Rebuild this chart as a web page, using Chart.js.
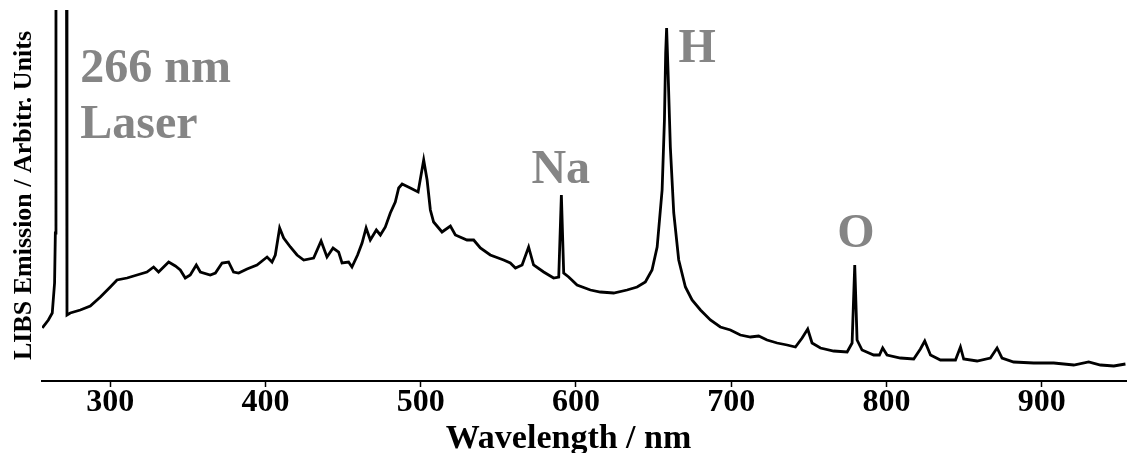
<!DOCTYPE html>
<html lang="en">
<head>
    <meta charset="UTF-8">
    <title>LIBS Spectrum</title>
    <script src="https://cdn.jsdelivr.net/npm/chart.js"></script>
    <style>
        body {
            margin: 0;
            background: white;
        }
        .wrap {
            width: 1127px;
            height: 453px;
            position: relative;
        }
    </style>
</head>
<body>
    <div class="wrap">
        <canvas id="spectrum"></canvas>
    </div>

    <script>
        // wavelength (nm) and emission (arbitrary units)
        const wavelength = [
            256.2, 260.1, 262.6, 264.1, 264.6, 265.0, 271.6, 272.1, 274.2, 280.7,
            287.1, 293.6, 300.0, 304.3, 310.8, 317.2, 323.6, 327.9, 331.1, 337.6,
            341.9, 345.1, 348.3, 351.5, 355.4, 358.0, 364.4, 367.7, 372.0, 376.2,
            379.4, 382.7, 388.1, 394.5, 401.0, 404.2, 406.3, 409.1, 411.7, 416.0,
            420.3, 424.6, 431.0, 435.8, 439.6, 443.5, 447.1, 449.3, 453.5, 455.7,
            459.3, 462.2, 464.8, 467.5, 471.4, 474.0, 477.2, 480.4, 483.6, 485.8,
            488.0, 493.3, 498.3, 501.9, 504.1, 506.2, 508.3, 513.7, 519.1, 522.3,
            529.8, 534.1, 538.4, 544.8, 553.4, 557.7, 561.0, 565.3, 569.5, 572.7,
            579.2, 585.6, 588.9, 590.6, 592.1, 595.3, 600.7, 609.3, 615.7, 624.3,
            632.9, 639.4, 644.7, 649.0, 652.3, 655.5, 657.0, 657.8, 658.4, 659.3,
            660.8, 663.0, 666.2, 670.5, 674.8, 680.2, 686.6, 693.0, 699.5, 705.9,
            712.4, 717.7, 723.1, 729.6, 736.0, 741.4, 745.7, 749.3, 752.1, 757.5,
            766.0, 774.7, 777.9, 779.6, 781.1, 784.3, 791.8, 795.5, 797.6, 800.4,
            809.0, 817.6, 821.9, 824.7, 828.4, 834.8, 844.5, 847.7, 849.8, 858.4,
            867.0, 871.3, 874.5, 882.0, 894.9, 907.8, 920.7, 930.3, 937.9, 946.5,
            954.0
        ];
        const intensity = [
            53, 61, 68, 98, 148, 600, 600, 66, 68, 71,
            75, 84, 94, 101, 103, 106, 109, 114, 109, 119,
            115, 111, 103, 106, 116, 109, 106, 108, 118, 119,
            109, 108, 112, 116, 124, 119, 126, 153, 143, 134,
            126, 121, 123, 140, 124, 133, 129, 118, 119, 114,
            126, 138, 153, 141, 151, 146, 154, 168, 179, 193,
            197, 193, 189, 221, 201, 171, 159, 149, 155, 146,
            141, 141, 133, 126, 121, 118, 113, 116, 134, 116,
            109, 103, 104, 186, 108, 104, 96, 91, 89, 88,
            91, 94, 99, 111, 134, 191, 261, 328, 353, 311,
            234, 168, 121, 94, 81, 71, 61, 54, 51, 46,
            44, 45, 41, 38, 36, 34, 43, 52, 38, 33,
            30, 29, 38, 116, 41, 31, 26, 26, 33, 26,
            23, 22, 32, 40, 26, 21, 21, 34, 22, 20,
            23, 33, 23, 19, 18, 18, 16, 19, 16, 15,
            17
        ];
        const xTicks = [300, 400, 500, 600, 700, 800, 900];

        // peak labels, anchored in data units (left edge, baseline)
        const peakLabels = ["266 nm", "Laser", "Na", "H", "O"];
        const labelX = [280.7, 280.7, 571.3, 666.0, 768.4];
        const labelY = [299, 243, 198, 319, 134];

        const xTitle = "Wavelength / nm";
        const serif = "'Liberation Serif', 'Times New Roman', serif";

        const labelPlugin = {
            id: "peakLabels",
            afterDraw(chart) {
                const ctx = chart.ctx;
                const xs = chart.scales.x;
                const ys = chart.scales.y;
                ctx.save();
                ctx.font = "bold 48px " + serif;
                ctx.fillStyle = "#858585";
                ctx.textAlign = "left";
                ctx.textBaseline = "alphabetic";
                peakLabels.forEach((t, i) => {
                    ctx.fillText(t, xs.getPixelForValue(labelX[i]), ys.getPixelForValue(labelY[i]));
                });
                // x axis title sits a bit left of the plot centre in the original
                ctx.font = "bold 34px " + serif;
                ctx.fillStyle = "#000";
                ctx.textAlign = "center";
                ctx.fillText(xTitle, chart.width / 2 + 5, chart.height - 5);
                ctx.restore();
            }
        };

        new Chart(document.getElementById("spectrum"), {
            type: "line",
            data: {
                datasets: [{
                    data: wavelength.map((w, i) => ({ x: w, y: intensity[i] })),
                    borderColor: "#000",
                    borderWidth: 2.8,
                    pointRadius: 0,
                    tension: 0,
                    fill: false
                }]
            },
            options: {
                responsive: true,
                maintainAspectRatio: false,
                animation: false,
                layout: { padding: { top: 10, bottom: 34, left: 0, right: 0 } },
                plugins: {
                    legend: { display: false },
                    tooltip: { enabled: false }
                },
                scales: {
                    x: {
                        type: "linear",
                        min: 256,
                        max: 955,
                        afterBuildTicks: (scale) => {
                            scale.ticks = xTicks.map(v => ({ value: v }));
                        },
                        border: { display: true, color: "#000", width: 2 },
                        grid: {
                            display: true,
                            drawOnChartArea: false,
                            drawTicks: true,
                            tickLength: 6,
                            tickWidth: 1.5,
                            tickColor: "#000"
                        },
                        ticks: {
                            color: "#000",
                            padding: 0,
                            maxRotation: 0,
                            font: { family: serif, size: 32, weight: "bold", lineHeight: 1 }
                        }
                    },
                    y: {
                        min: 0,
                        max: 371,
                        border: { display: false },
                        grid: { display: false, drawTicks: false },
                        ticks: { display: false },
                        title: {
                            display: true,
                            text: "LIBS Emission / Arbitr. Units",
                            color: "#000",
                            padding: { top: 11, bottom: 5 },
                            font: { family: serif, size: 26, weight: "bold", lineHeight: 1 }
                        }
                    }
                }
            },
            plugins: [labelPlugin]
        });
    </script>
</body>
</html>
